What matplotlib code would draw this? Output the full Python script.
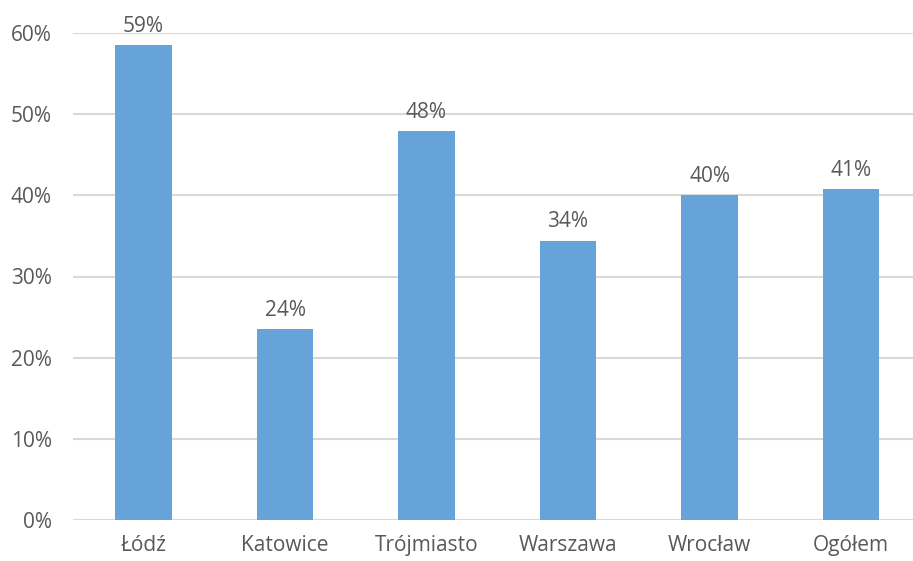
import matplotlib
matplotlib.use("Agg")
import matplotlib.pyplot as plt
from matplotlib.ticker import FuncFormatter

categories = ["Łódź", "Katowice", "Trójmiasto", "Warszawa", "Wrocław", "Ogółem"]
values = [0.585, 0.235, 0.479, 0.344, 0.400, 0.408]
labels = ["59%", "24%", "48%", "34%", "40%", "41%"]

plt.rcParams['font.family'] = ['Open Sans', 'DejaVu Sans']

fig = plt.figure(figsize=(9.13, 5.61), dpi=100)
ax = fig.add_axes([72.75 / 913, 41 / 561, 849 / 913, 487 / 561])

x = list(range(len(categories)))
bars = ax.bar(x, values, width=0.4, color="#66A3D9", zorder=3)

for b, lab in zip(bars, labels):
    ax.annotate(lab, (b.get_x() + b.get_width() / 2, b.get_height()),
                xytext=(0, 6), textcoords="offset points",
                ha="center", va="bottom", fontsize=15, color="#595959")

ax.set_xlim(-0.5, 5.5)
ax.set_ylim(0, 0.6)
ax.set_yticks([0, 0.1, 0.2, 0.3, 0.4, 0.5, 0.6])
ax.yaxis.set_major_formatter(FuncFormatter(lambda v, p: f"{round(v * 100)}%"))
ax.set_xticks(x)
ax.set_xticklabels(categories)
ax.tick_params(axis="both", length=0, labelsize=15, colors="#595959")
ax.tick_params(axis="y", pad=15)
ax.tick_params(axis="x", pad=11)
ax.grid(axis="y", color="#D9D9D9", linewidth=1.5, zorder=0)
ax.set_axisbelow(True)
for s in ax.spines.values():
    s.set_visible(False)

fig.savefig("out.png", dpi=100)
